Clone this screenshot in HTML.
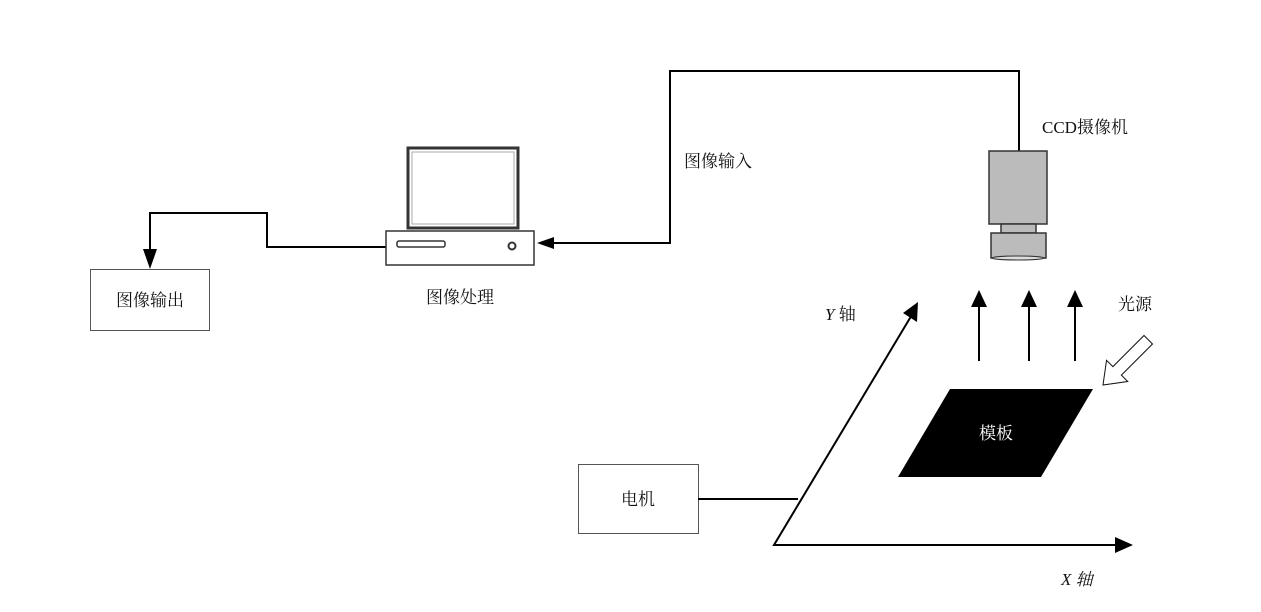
<!DOCTYPE html>
<html><head><meta charset="utf-8"><style>
html,body{margin:0;padding:0;background:#fff;}
svg{display:block;}
text{font-family:"Liberation Serif","Noto Serif CJK SC","Noto Sans CJK SC",serif;fill:#111;}
</style></head><body>
<svg width="1261" height="612" viewBox="0 0 1261 612" xmlns="http://www.w3.org/2000/svg">
<!-- image output box -->
<rect x="90.5" y="269.5" width="119" height="61" fill="#fff" stroke="#555" stroke-width="1"/>
<text x="150" y="306" font-size="17" text-anchor="middle">图像输出</text>
<polyline points="386,247 267,247 267,213 150,213 150,252" fill="none" stroke="#000" stroke-width="2"/>
<polygon points="143,249 157,249 150,269" fill="#000"/>
<!-- computer -->
<rect x="408" y="148" width="110" height="80" fill="#fff" stroke="#333" stroke-width="3"/>
<rect x="412" y="152" width="102" height="72" fill="none" stroke="#aaa" stroke-width="1"/>
<rect x="386" y="231" width="148" height="34" fill="#fff" stroke="#333" stroke-width="1.5"/>
<rect x="397" y="241" width="48" height="6" rx="2" fill="#fff" stroke="#333" stroke-width="1.5"/>
<circle cx="512" cy="246" r="3.5" fill="#fff" stroke="#333" stroke-width="2"/>
<text x="460" y="303" font-size="17" text-anchor="middle">图像处理</text>
<!-- camera wire -->
<polyline points="1019,151 1019,71 670,71 670,243 552,243" fill="none" stroke="#000" stroke-width="2"/>
<polygon points="537,243 554,237 554,249" fill="#000"/>
<text x="684" y="167" font-size="17">图像输入</text>
<!-- camera -->
<text x="1042" y="133" font-size="17">CCD摄像机</text>
<rect x="989" y="151" width="58" height="73" fill="#bbb" stroke="#333" stroke-width="1.5"/>
<rect x="1001" y="224" width="35" height="9" fill="#bbb" stroke="#333" stroke-width="1.5"/>
<rect x="991" y="233" width="55" height="25" fill="#bbb" stroke="#333" stroke-width="1.5"/>
<ellipse cx="1018" cy="258" rx="26" ry="2" fill="#ddd" stroke="#333" stroke-width="1"/>
<!-- light arrows -->
<g stroke="#000" stroke-width="2">
<line x1="979" y1="361" x2="979" y2="305"/><line x1="1029" y1="361" x2="1029" y2="305"/><line x1="1075" y1="361" x2="1075" y2="305"/></g>
<polygon points="979,290 971,307 987,307" fill="#000"/>
<polygon points="1029,290 1021,307 1037,307" fill="#000"/>
<polygon points="1075,290 1067,307 1083,307" fill="#000"/>
<text x="1118" y="310" font-size="17">光源</text>
<!-- hollow arrow -->
<polygon transform="translate(1103,385) rotate(-45)" points="0,0 20,-15 20,-6 64,-6 64,6 20,6 20,15" fill="#fff" stroke="#111" stroke-width="1"/>
<!-- template -->
<polygon points="950,389 1093,389 1041,477 898,477" fill="#000"/>
<text x="996" y="439" font-size="17" text-anchor="middle" style="fill:#fff">模板</text>
<!-- axes -->
<polyline points="913,313 774,545 1118,545" fill="none" stroke="#000" stroke-width="2"/>
<polygon points="1133,545 1115,537 1115,553" fill="#000"/>
<polygon points="918,302 903,313 917,322" fill="#000"/>
<text x="825" y="320" font-size="17"><tspan font-style="italic">Y</tspan> 轴</text>
<text x="1061" y="585" font-size="17" font-style="italic">X 轴</text>
<!-- motor -->
<rect x="578.5" y="464.5" width="120" height="69" fill="#fff" stroke="#555" stroke-width="1"/>
<text x="638" y="505" font-size="17" text-anchor="middle">电机</text>
<line x1="698" y1="499" x2="798" y2="499" stroke="#000" stroke-width="2"/>
</svg>
</body></html>
